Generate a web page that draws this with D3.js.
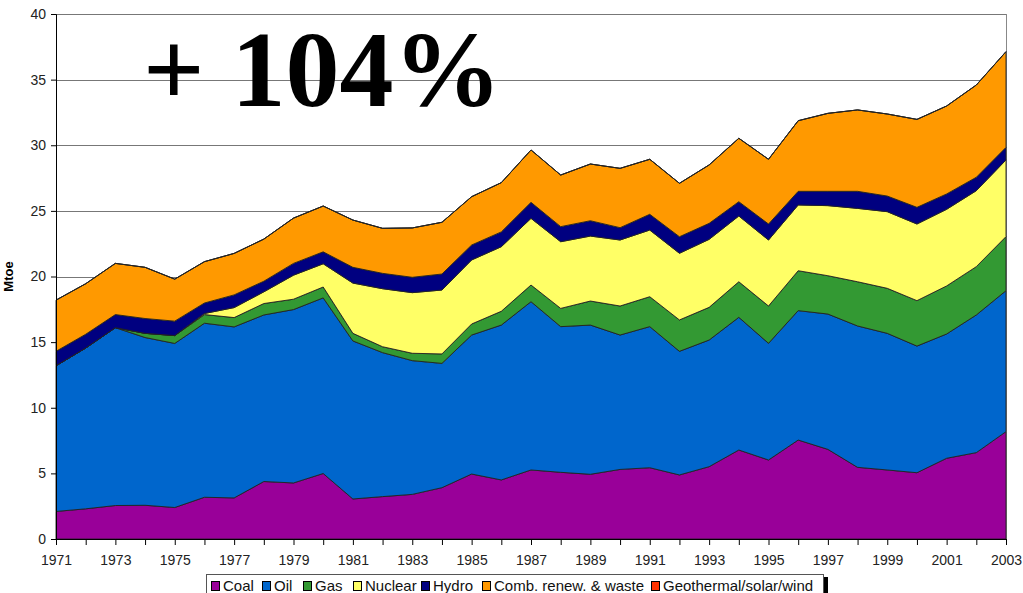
<!DOCTYPE html>
<html lang="en">
<head>
  <meta charset="UTF-8">
  <title>Mtoe by source</title>
  <script src="https://d3js.org/d3.v7.min.js"></script>
  <style>
    body { margin: 0; background: #fff; }
    svg { display: block; }
    .tick text { font-family: Arial, "Liberation Sans", sans-serif; }
  </style>
</head>
<body>
  <script>
    // data (Mtoe per source, each year)
    var years = d3.range(1971, 2004);
    var coal = [2.1, 2.3, 2.55, 2.57, 2.4, 3.18, 3.13, 4.38, 4.27, 4.99, 3.05, 3.23, 3.4, 3.91, 4.95, 4.5, 5.26, 5.08, 4.93, 5.3, 5.43, 4.88, 5.51, 6.78, 6.02, 7.54, 6.83, 5.46, 5.26, 5.05, 6.15, 6.58, 8.18];
    var oil = [11.1, 12.25, 13.55, 12.78, 12.5, 13.26, 13.03, 12.69, 13.21, 13.38, 12.04, 10.97, 10.19, 9.47, 10.59, 11.8, 12.82, 11.1, 11.37, 10.24, 10.75, 9.42, 9.65, 10.11, 8.89, 9.86, 10.31, 10.77, 10.41, 9.65, 9.47, 10.49, 10.74];
    var gas = [0, 0, 0, 0.32, 0.6, 0.66, 0.71, 0.87, 0.79, 0.83, 0.58, 0.45, 0.56, 0.72, 0.84, 1.05, 1.27, 1.39, 1.83, 2.21, 2.28, 2.39, 2.49, 2.71, 2.84, 3.04, 2.92, 3.37, 3.43, 3.46, 3.66, 3.68, 4.12];
    var nuclear = [0, 0, 0, 0, 0, 0.08, 0.76, 0.89, 1.83, 1.77, 3.83, 4.42, 4.62, 4.87, 4.88, 4.92, 5.08, 5.08, 4.95, 5.03, 5.08, 5.08, 5.18, 5.01, 5.03, 5.01, 5.34, 5.59, 5.84, 5.84, 5.84, 5.79, 5.84];
    var hydro = [1.1, 1.05, 1.0, 1.13, 1.1, 0.8, 0.97, 0.81, 0.9, 0.91, 1.2, 1.17, 1.17, 1.22, 1.14, 1.13, 1.22, 1.15, 1.17, 0.94, 1.2, 1.26, 1.22, 1.09, 1.22, 1.04, 1.09, 1.3, 1.19, 1.27, 1.17, 1.02, 0.96];
    var combRenew = [3.9, 3.85, 3.9, 3.9, 3.2, 3.15, 3.16, 3.21, 3.45, 3.49, 3.6, 3.43, 3.76, 3.94, 3.68, 3.75, 3.99, 3.93, 4.32, 4.52, 4.19, 4.07, 4.45, 4.83, 4.93, 5.38, 5.94, 6.2, 6.25, 6.7, 6.7, 7.03, 7.29];
    var geoSolarWind = [0, 0, 0, 0, 0, 0, 0, 0, 0, 0, 0, 0, 0, 0, 0, 0, 0, 0, 0, 0, 0, 0, 0, 0, 0, 0, 0, 0, 0, 0, 0, 0, 0];
    var seriesNames = ["Coal", "Oil", "Gas", "Nuclear", "Hydro", "Comb. renew. & waste", "Geothermal/solar/wind"];
    var seriesColors = ["#990099", "#0066cc", "#339933", "#ffff66", "#000080", "#ff9900", "#ff3300"];
    var yTicks = [0, 5, 10, 15, 20, 25, 30, 35, 40];

    var allSeries = [coal, oil, gas, nuclear, hydro, combRenew, geoSolarWind];
    var rows = years.map(function (yr, i) {
      var r = { year: yr };
      seriesNames.forEach(function (n, k) { r[n] = allSeries[k][i]; });
      return r;
    });

    var W = 1023, H = 593;
    var margin = { top: 14, right: 17, bottom: 54, left: 56 };
    var width = W - margin.left - margin.right;
    var height = H - margin.top - margin.bottom;

    var svg = d3.select("body").append("svg")
      .attr("width", W)
      .attr("height", H);
    var g = svg.append("g")
      .attr("transform", "translate(" + margin.left + "," + margin.top + ")");

    var x = d3.scaleLinear().domain([1971, 2003]).range([0, width]);
    var y = d3.scaleLinear().domain([0, 40]).range([height, 0]);

    // gridlines
    g.append("g")
      .selectAll("line")
      .data(yTicks.filter(function (t) { return t > 0; }))
      .enter().append("line")
      .attr("x1", 0).attr("x2", width)
      .attr("y1", function (d) { return Math.round(y(d)) + 0.5; })
      .attr("y2", function (d) { return Math.round(y(d)) + 0.5; })
      .attr("stroke", "#777")
      .attr("stroke-width", 1);

    // right border of plot
    g.append("line")
      .attr("x1", width + 0.5).attr("x2", width + 0.5)
      .attr("y1", 0).attr("y2", height)
      .attr("stroke", "#888");

    var stack = d3.stack().keys(seriesNames);
    var layers = stack(rows);

    var area = d3.area()
      .x(function (d) { return x(d.data.year); })
      .y0(function (d) { return y(d[0]); })
      .y1(function (d) { return y(d[1]); });

    g.selectAll(".layer")
      .data(layers)
      .enter().append("path")
      .attr("class", "layer")
      .attr("d", area)
      .attr("fill", function (d, i) { return seriesColors[i]; })
      .attr("stroke", "#222")
      .attr("stroke-width", 0.9)
      .attr("stroke-linejoin", "round");

    // x axis
    var xAxis = g.append("g")
      .attr("transform", "translate(0," + height + ")")
      .call(d3.axisBottom(x)
        .tickValues(years)
        .tickSize(6)
        .tickFormat(function (d) { return d % 2 == 1 ? d : ""; }));
    xAxis.select(".domain").attr("stroke", "#000");
    xAxis.selectAll(".tick line").attr("stroke", "#000");
    xAxis.selectAll(".tick text")
      .attr("font-size", 14)
      .attr("fill", "#222")
      .attr("dy", "0.95em")
      .attr("y", 13);

    // y axis
    var yAxis = g.append("g")
      .call(d3.axisLeft(y).tickValues(yTicks).tickSize(5).tickPadding(5));
    yAxis.select(".domain").attr("stroke", "#000");
    yAxis.selectAll(".tick line").attr("stroke", "#000");
    yAxis.selectAll(".tick text")
      .attr("font-size", 14)
      .attr("fill", "#222");

    svg.append("text")
      .attr("transform", "translate(13," + (margin.top + height / 2) + ") rotate(-90)")
      .attr("text-anchor", "middle")
      .attr("font-family", "Arial, 'Liberation Sans', sans-serif")
      .attr("font-weight", "bold")
      .attr("font-size", 13)
      .text("Mtoe");

    // big annotation
    svg.append("text")
      .attr("x", 143)
      .attr("y", 106)
      .attr("font-family", "'Liberation Serif', 'Times New Roman', serif")
      .attr("font-weight", "bold")
      .attr("font-size", 108)
      .attr("fill", "#000")
      .text("+ 104%");

    // legend
    var lg = svg.append("g").attr("transform", "translate(206,574)");
    lg.append("rect")
      .attr("x", 3).attr("y", 3)
      .attr("width", 619).attr("height", 30)
      .attr("fill", "#000");
    lg.append("rect")
      .attr("x", 0.5).attr("y", 0.5)
      .attr("width", 617).attr("height", 30)
      .attr("fill", "#fff")
      .attr("stroke", "#555");
    var itemX = [5, 56, 97, 147, 215, 276, 445];
    var items = lg.selectAll(".item")
      .data(seriesNames)
      .enter().append("g")
      .attr("class", "item")
      .attr("transform", function (d, i) { return "translate(" + itemX[i] + ",0)"; });
    items.append("rect")
      .attr("x", 0.5).attr("y", 7.5)
      .attr("width", 8).attr("height", 9)
      .attr("fill", function (d, i) { return seriesColors[i]; })
      .attr("stroke", "#000");
    items.append("text")
      .attr("x", 12)
      .attr("y", 17)
      .attr("font-family", "Arial, 'Liberation Sans', sans-serif")
      .attr("font-size", 15)
      .attr("fill", "#111")
      .text(function (d) { return d; });
  </script>
</body>
</html>
